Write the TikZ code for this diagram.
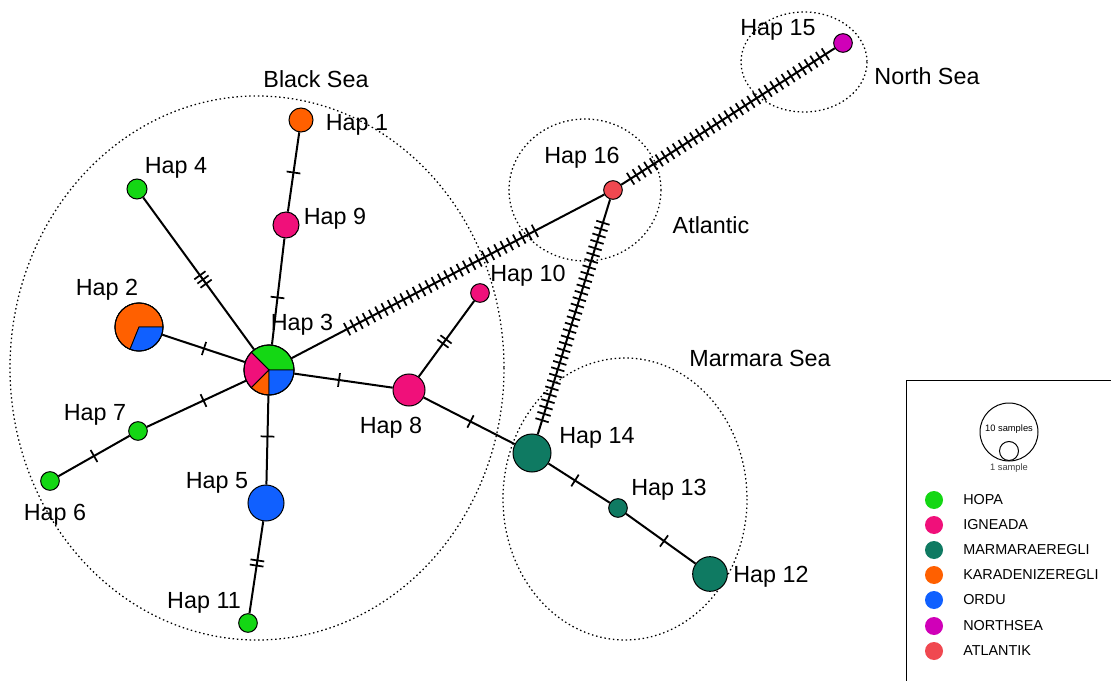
\documentclass[tikz,border=0pt]{standalone}
\usepackage{fontspec}
\setmainfont{Liberation Sans}
\usetikzlibrary{calc}
\definecolor{hopa}{RGB}{20,215,20}
\definecolor{igneada}{RGB}{240,16,122}
\definecolor{marmara}{RGB}{15,122,98}
\definecolor{karadeniz}{RGB}{255,96,0}
\definecolor{ordu}{RGB}{16,96,255}
\definecolor{northsea}{RGB}{208,0,184}
\definecolor{atlantik}{RGB}{240,72,80}
\tikzset{
  hap/.style={circle, draw=black, line width=0.75pt, inner sep=0pt},
  lnk/.style={line width=1.5pt},
  mut/.style={line width=1.3pt},
  region/.style={draw, line width=0.95pt, dash pattern=on 1.1pt off 2.1pt},
  lab/.style={font=\fontsize{17.5}{20}\selectfont, inner sep=0pt, yshift=-2pt},
  leg/.style={font=\fontsize{10.8}{12}\selectfont, anchor=west, inner sep=0pt},
  legdot/.style={circle, inner sep=0pt, minimum size=13.5pt},
  slice/.style={draw=black, line width=0.6pt},
}
% #1 from, #2 to, #3 number of marks, #4 spacing (pt)
\newcommand\mutmarks[4]{%
  \foreach \i in {1,...,#3}{%
    \pgfmathsetmacro\off{(\i-(#3+1)/2)*#4}%
    \coordinate (tk) at ($(#1)!0.5!(#2)$);
    \coordinate (tp) at ($(tk)!\off pt!(#2)$);
    \draw[mut] ($(tp)!5.2pt!90:(#2)$) -- ($(tp)!5.2pt!-90:(#2)$);
  }}
% center, radius, start, end, colour
\newcommand\pieslice[5]{%
  \filldraw[#5, slice] (#1) -- ++(#3:#2) arc[start angle=#3, end angle=#4, radius=#2] -- cycle;}
\begin{document}
\begin{tikzpicture}[x=0.75pt, y=-0.75pt]
\useasboundingbox (0,0) rectangle (1111,681);
\fill[white] (0,0) rectangle (1111,681);

% regions
\draw[region] (257,368) ellipse [x radius=247, y radius=272];
\draw[region] (585,190) ellipse [x radius=76, y radius=71];
\draw[region] (804,62) ellipse [x radius=63, y radius=50];
\draw[region] (625,499) ellipse [x radius=122, y radius=141];

% haplotypes
\node[hap, minimum size=18pt, fill=karadeniz] (h1) at (301,120) {};
\node[hap, minimum size=36pt] (h2) at (139,327) {};
\node[hap, minimum size=37.5pt] (h3) at (269,370) {};
\node[hap, minimum size=15pt, fill=hopa] (h4) at (137,189) {};
\node[hap, minimum size=27pt, fill=ordu] (h5) at (266,503) {};
\node[hap, minimum size=14pt, fill=hopa] (h6) at (50,481) {};
\node[hap, minimum size=14pt, fill=hopa] (h7) at (138,431) {};
\node[hap, minimum size=24pt, fill=igneada] (h8) at (409,390) {};
\node[hap, minimum size=19.5pt, fill=igneada] (h9) at (286,225) {};
\node[hap, minimum size=14pt, fill=igneada] (h10) at (480,293) {};
\node[hap, minimum size=14pt, fill=hopa] (h11) at (248,623) {};
\node[hap, minimum size=26pt, fill=marmara] (h12) at (710,574) {};
\node[hap, minimum size=14pt, fill=marmara] (h13) at (618,508) {};
\node[hap, minimum size=28.5pt, fill=marmara] (h14) at (532,453) {};
\node[hap, minimum size=14pt, fill=northsea] (h15) at (843,43) {};
\node[hap, minimum size=14pt, fill=atlantik] (h16) at (613,190) {};

% pies
\pieslice{h3.center}{18.75pt}{0}{135}{hopa}
\pieslice{h3.center}{18.75pt}{135}{225}{igneada}
\pieslice{h3.center}{18.75pt}{225}{270}{karadeniz}
\pieslice{h3.center}{18.75pt}{270}{360}{ordu}
\draw[line width=0.75pt] (h3.center) circle[radius=18.75pt];
\pieslice{h2.center}{18pt}{0}{248}{karadeniz}
\pieslice{h2.center}{18pt}{248}{360}{ordu}
\draw[line width=0.75pt] (h2.center) circle[radius=18pt];

% links
\draw[lnk] (h1) -- (h9);
\draw[lnk] (h9) -- (h3);
\draw[lnk] (h4) -- (h3);
\draw[lnk] (h2) -- (h3);
\draw[lnk] (h7) -- (h3);
\draw[lnk] (h6) -- (h7);
\draw[lnk] (h5) -- (h3);
\draw[lnk] (h11) -- (h5);
\draw[lnk] (h8) -- (h3);
\draw[lnk] (h10) -- (h8);
\draw[lnk] (h8) -- (h14);
\draw[lnk] (h14) -- (h13);
\draw[lnk] (h13) -- (h12);
\draw[lnk] (h3) -- (h16);
\draw[lnk] (h16) -- (h14);
\draw[lnk] (h16) -- (h15);

% mutation marks
\mutmarks{h1}{h9}{1}{0}
\mutmarks{h9}{h3}{1}{0}
\mutmarks{h4}{h3}{3}{3.9}
\mutmarks{h2}{h3}{1}{0}
\mutmarks{h7}{h3}{1}{0}
\mutmarks{h6}{h7}{1}{0}
\mutmarks{h5}{h3}{1}{0}
\mutmarks{h11}{h5}{2}{3.9}
\mutmarks{h8}{h3}{1}{0}
\mutmarks{h10}{h8}{2}{3.9}
\mutmarks{h8}{h14}{1}{0}
\mutmarks{h14}{h13}{1}{0}
\mutmarks{h13}{h12}{1}{0}
\mutmarks{h3}{h16}{31}{5.3}
\mutmarks{h16}{h14}{32}{5.0}
\mutmarks{h16}{h15}{35}{5.1}

% labels
\node[lab] (tbs) at (316,76) {Black Sea};
\node[lab] (t1) at (357,122) {Hap 1};
\node[lab] (t4) at (176,165) {Hap 4};
\node[lab] (t9) at (335,216) {Hap 9};
\node[lab] (t2) at (107,287) {Hap 2};
\node[lab] (t3) at (302,322) {Hap 3};
\node[lab] (t10) at (528,273) {Hap 10};
\node[lab] (t7) at (95,412) {Hap 7};
\node[lab] (t8) at (391,425) {Hap 8};
\node[lab] (t6) at (55,512) {Hap 6};
\node[lab] (t5) at (217,480) {Hap 5};
\node[lab] (t11) at (204,600) {Hap 11};
\node[lab] (t16) at (582,155) {Hap 16};
\node[lab] (tat) at (711,222) {Atlantic};
\node[lab] (t15) at (778,27) {Hap 15};
\node[lab] (tns) at (927,73) {North Sea};
\node[lab] (tms) at (760,356) {Marmara Sea};
\node[lab] (t14) at (597,435) {Hap 14};
\node[lab] (t13) at (669,487) {Hap 13};
\node[lab] (t12) at (771,574) {Hap 12};

% legend
\draw[line width=0.75pt] (906,681) -- (906,380) -- (1111,380);
\node[hap, minimum size=43.5pt] (s10) at (1009,432) {};
\node[hap, minimum size=14.25pt] (s1) at (1009,451) {};
\node[font=\fontsize{7}{8}\selectfont, inner sep=0pt] (t10s) at (1009,429) {10 samples};
\node[font=\fontsize{7}{8}\selectfont, inner sep=0pt, text=black!75] (t1s) at (1009,468) {1 sample};
\node[legdot, fill=hopa] (d1) at (934,500) {};
\node[legdot, fill=igneada] (d2) at (934,525) {};
\node[legdot, fill=marmara] (d3) at (934,550) {};
\node[legdot, fill=karadeniz] (d4) at (934,575) {};
\node[legdot, fill=ordu] (d5) at (934,600) {};
\node[legdot, fill=northsea] (d6) at (934,626) {};
\node[legdot, fill=atlantik] (d7) at (934,651) {};
\node[leg] (e1) at (963,500) {HOPA};
\node[leg] (e2) at (963,525) {IGNEADA};
\node[leg] (e3) at (963,550) {MARMARAEREGLI};
\node[leg] (e4) at (963,575) {KARADENIZEREGLI};
\node[leg] (e5) at (963,600) {ORDU};
\node[leg] (e6) at (963,626) {NORTHSEA};
\node[leg] (e7) at (963,651) {ATLANTIK};
\end{tikzpicture}
\end{document}
